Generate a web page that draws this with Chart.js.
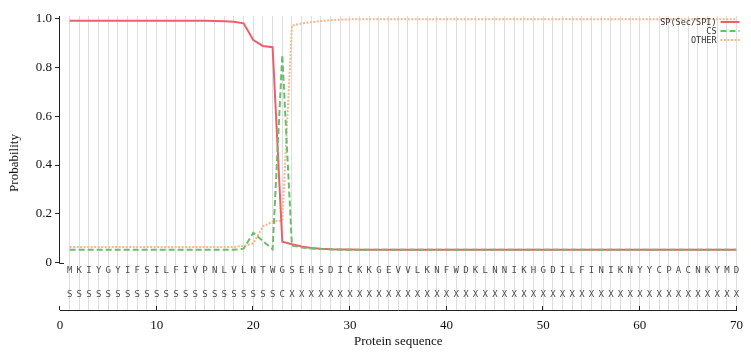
<!DOCTYPE html>
<html><head><meta charset="utf-8">
<script src="https://cdn.jsdelivr.net/npm/chart.js@4.4.1/dist/chart.umd.min.js"></script>
<style>html,body{margin:0;padding:0;background:#fff}</style>
</head><body>
<canvas id="c" width="751" height="353" style="display:block;width:751px;height:353px"></canvas>
<script>
// ---- data ----
const sequence = ['M','K','I','Y','G','Y','I','F','S','I','L','F','I','V','P','N','L','V','L','N','T','W','G','S','E','H','S','D','I','C','K','K','G','E','V','V','L','K','N','F','W','D','K','L','N','N','I','K','H','G','D','I','L','F','I','N','I','K','N','Y','Y','C','P','A','C','N','K','Y','M','D'];
const regionLabels = ['S','S','S','S','S','S','S','S','S','S','S','S','S','S','S','S','S','S','S','S','S','S','C','X','X','X','X','X','X','X','X','X','X','X','X','X','X','X','X','X','X','X','X','X','X','X','X','X','X','X','X','X','X','X','X','X','X','X','X','X','X','X','X','X','X','X','X','X','X','X'];
const seriesNames = ['SP(Sec/SPI)','CS','OTHER'];
const spSecSpi = [0.992,0.992,0.992,0.992,0.992,0.992,0.992,0.992,0.992,0.992,0.992,0.992,0.992,0.992,0.992,0.991,0.990,0.988,0.982,0.913,0.889,0.884,0.085,0.075,0.066,0.060,0.056,0.054,0.053,0.053,0.052,0.052,0.052,0.052,0.052,0.052,0.052,0.052,0.052,0.052,0.052,0.052,0.052,0.052,0.052,0.052,0.052,0.052,0.052,0.052,0.052,0.052,0.052,0.052,0.052,0.052,0.052,0.052,0.052,0.052,0.052,0.052,0.052,0.052,0.052,0.052,0.052,0.052,0.052,0.052];
const cs = [0.052,0.052,0.052,0.052,0.052,0.052,0.052,0.052,0.052,0.052,0.052,0.052,0.052,0.052,0.052,0.052,0.052,0.052,0.057,0.122,0.088,0.055,0.852,0.070,0.062,0.057,0.055,0.054,0.053,0.052,0.052,0.052,0.052,0.052,0.052,0.052,0.052,0.052,0.052,0.052,0.052,0.052,0.052,0.052,0.052,0.052,0.052,0.052,0.052,0.052,0.052,0.052,0.052,0.052,0.052,0.052,0.052,0.052,0.052,0.052,0.052,0.052,0.052,0.052,0.052,0.052,0.052,0.052,0.052,0.052];
const other = [0.064,0.064,0.064,0.064,0.064,0.064,0.064,0.064,0.064,0.064,0.064,0.064,0.064,0.064,0.064,0.064,0.064,0.064,0.068,0.079,0.148,0.168,0.172,0.973,0.981,0.987,0.991,0.995,0.997,0.998,0.999,0.999,0.999,0.999,0.999,0.999,0.999,0.999,0.999,0.999,0.999,0.999,0.999,0.999,0.999,0.999,0.999,0.999,0.999,0.999,0.999,0.999,0.999,0.999,0.999,0.999,0.999,0.999,0.999,0.999,0.999,0.999,0.999,0.999,0.999,0.999,0.999,0.999,0.999,0.999];
const xTickValues = [0,10,20,30,40,50,60,70];
const yTickValues = [0,0.2,0.4,0.6,0.8,1.0];

// ---- chart ----
const toPoints = arr => arr.map((v, i) => ({x: i + 1, y: v}));
const serif = 'Liberation Serif';
const mono = 'DejaVu Sans Mono';

const extras = {
  id: 'extras',
  afterDraw(chart) {
    const {ctx, chartArea: a, scales: {x, y}} = chart;
    const y0 = y.getPixelForValue(0);
    ctx.save();
    ctx.strokeStyle = '#222';
    ctx.lineWidth = 1;
    // y axis line (from 0 up to top)
    ctx.beginPath();
    ctx.moveTo(a.left - 0.5, Math.round(y0) + 0.5);
    ctx.lineTo(a.left - 0.5, a.top);
    ctx.moveTo(a.left - 0.5, Math.round(y0) + 0.5);
    ctx.lineTo(a.left + 4, Math.round(y0) + 0.5);
    ctx.stroke();
    // x ticks (inward)
    ctx.beginPath();
    xTickValues.forEach(v => {
      const px = Math.round(x.getPixelForValue(v)) - 0.5;
      ctx.moveTo(px, a.bottom);
      ctx.lineTo(px, a.bottom - 4);
    });
    ctx.stroke();
    // sequence letters
    ctx.fillStyle = '#4a4a4a';
    ctx.font = '9px "' + mono + '"';
    ctx.textAlign = 'center';
    ctx.textBaseline = 'middle';
    sequence.forEach((s, i) => {
      const px = x.getPixelForValue(i + 1);
      ctx.fillText(s, px, y0 + 8);
      ctx.fillText(regionLabels[i], px, y0 + 32);
    });
    // legend
    ctx.font = '8.5px "' + mono + '"';
    ctx.textAlign = 'right';
    ctx.fillStyle = '#333';
    chart.data.datasets.forEach((ds, i) => {
      const ly = a.top + 6 + i * 9;
      ctx.fillText(ds.label, a.right - 20, ly + 0.5);
      ctx.save();
      ctx.strokeStyle = ds.borderColor;
      ctx.lineWidth = ds.borderWidth;
      ctx.setLineDash(ds.borderDash || []);
      ctx.beginPath();
      ctx.moveTo(a.right - 16, ly);
      ctx.lineTo(a.right + 3, ly);
      ctx.stroke();
      ctx.restore();
    });
    ctx.restore();
  }
};

new Chart(document.getElementById('c'), {
  type: 'line',
  data: {
    datasets: [
      {label: seriesNames[0], data: toPoints(spSecSpi), borderColor: 'rgb(236,96,108)', borderWidth: 2, pointRadius: 0, tension: 0, fill: false, order: 1},
      {label: seriesNames[1], data: toPoints(cs), borderColor: 'rgb(106,190,106)', borderWidth: 2, borderDash: [6, 3], pointRadius: 0, tension: 0, fill: false, order: 0},
      {label: seriesNames[2], data: toPoints(other), borderColor: 'rgb(248,182,138)', borderWidth: 2, borderDash: [2, 1.5], pointRadius: 0, tension: 0, fill: false, order: 2}
    ]
  },
  options: {
    responsive: false,
    animation: false,
    devicePixelRatio: 1,
    layout: {padding: {top: 16, right: 13, left: 0, bottom: 0}},
    plugins: {legend: {display: false}, tooltip: {enabled: false}},
    scales: {
      x: {
        type: 'linear', min: 0, max: 70,
        afterBuildTicks: s => { const t = []; for (let v = 0; v <= 70; v++) t.push({value: v}); s.ticks = t; },
        afterFit: s => { s.height = 43; },
        grid: {
          drawTicks: false,
          color: c => (c.tick && c.tick.value === 0) ? 'rgba(0,0,0,0)' : '#dedede',
          lineWidth: 1
        },
        border: {display: true, color: '#222', width: 1},
        ticks: {
          autoSkip: false, maxRotation: 0, padding: 8, color: '#111',
          font: {family: serif, size: 13},
          callback: v => xTickValues.includes(v) ? String(v) : ''
        },
        title: {display: true, text: 'Protein sequence', color: '#111', font: {family: serif, size: 13}, padding: {top: 0, bottom: 4}}
      },
      y: {
        min: -0.195, max: 1.012,
        afterBuildTicks: s => { s.ticks = yTickValues.map(v => ({value: v})); },
        afterFit: s => { s.width = 60; },
        grid: {drawOnChartArea: false, drawTicks: true, tickLength: 5, color: '#222'},
        border: {display: false},
        ticks: {
          padding: 3, color: '#111', font: {family: serif, size: 13},
          callback: v => v === 0 ? '0' : v.toFixed(1)
        },
        title: {display: true, text: 'Probability', color: '#111', font: {family: serif, size: 13}, padding: {top: 7, bottom: 0}}
      }
    }
  },
  plugins: [extras]
});
</script>
</body></html>
